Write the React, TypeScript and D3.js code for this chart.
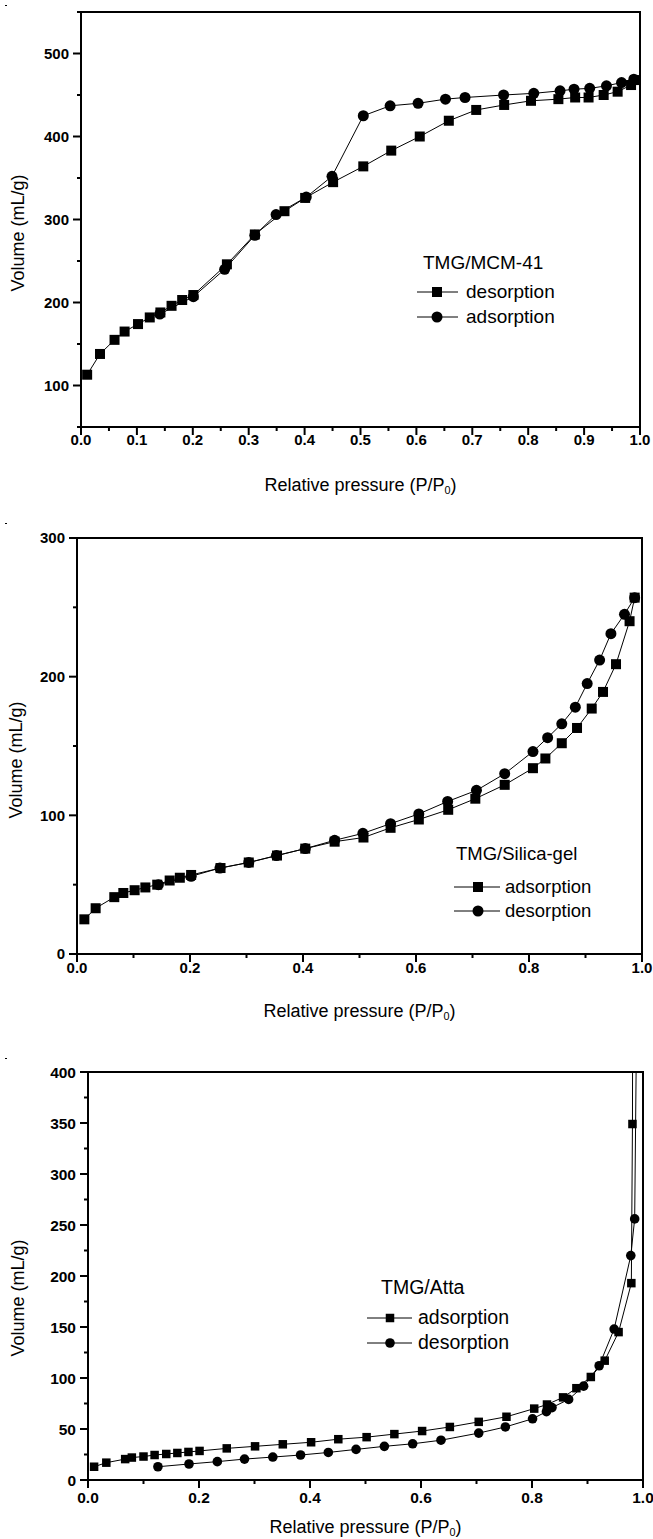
import React from "react";
import * as d3 from "d3";

// ---------- DATA ----------
// Panel 1: TMG/MCM-41
const mcmDesX = [0.011, 0.034, 0.06, 0.078, 0.102, 0.123, 0.142, 0.162, 0.181, 0.201, 0.261, 0.311, 0.364, 0.401, 0.451, 0.505, 0.555, 0.606, 0.658, 0.707, 0.757, 0.805, 0.854, 0.884, 0.908, 0.935, 0.96, 0.984, 0.991];
const mcmDesY = [113, 138, 155, 165, 174, 182, 188, 196, 203, 209, 246, 282, 310, 326, 345, 364, 383, 400, 419, 432, 438, 443, 445, 447, 447, 450, 454, 462, 468];
const mcmAdsX = [0.141, 0.201, 0.257, 0.311, 0.349, 0.403, 0.449, 0.505, 0.553, 0.603, 0.652, 0.687, 0.756, 0.81, 0.857, 0.882, 0.91, 0.94, 0.967, 0.989];
const mcmAdsY = [186, 207, 240, 281, 306, 327, 352, 425, 437, 440, 445, 447, 450, 452, 455, 457, 458, 461, 465, 469];

// Panel 2: TMG/Silica-gel
const silAdsX = [0.013, 0.033, 0.066, 0.082, 0.102, 0.121, 0.142, 0.164, 0.182, 0.202, 0.254, 0.304, 0.354, 0.404, 0.456, 0.507, 0.555, 0.605, 0.657, 0.705, 0.757, 0.807, 0.829, 0.858, 0.885, 0.911, 0.931, 0.954, 0.978, 0.987];
const silAdsY = [25, 33, 41, 44, 46, 48, 50, 53, 55, 57, 62, 66, 71, 76, 81, 84, 91, 97, 104, 112, 122, 134, 141, 152, 163, 177, 189, 209, 240, 257];
const silDesX = [0.144, 0.202, 0.253, 0.304, 0.353, 0.404, 0.456, 0.506, 0.555, 0.605, 0.656, 0.707, 0.757, 0.807, 0.833, 0.858, 0.882, 0.903, 0.925, 0.945, 0.969, 0.987];
const silDesY = [50, 56, 62, 66, 71, 76, 82, 87, 94, 101, 110, 118, 130, 146, 156, 166, 178, 195, 212, 231, 245, 257];

// Panel 3: TMG/Atta
const attaAdsX = [0.011, 0.033, 0.067, 0.079, 0.1, 0.12, 0.141, 0.161, 0.181, 0.201, 0.25, 0.301, 0.351, 0.402, 0.451, 0.502, 0.552, 0.602, 0.652, 0.704, 0.754, 0.804, 0.827, 0.856, 0.88, 0.906, 0.931, 0.956, 0.979, 0.981, 0.982];
const attaAdsY = [13, 17, 20.5, 22, 23, 24.5, 25.5, 26.5, 27.5, 28.5, 31, 33, 35, 37, 40, 42, 45, 48, 52, 57, 62, 70, 74, 81, 90, 101, 117, 145, 193, 349, 620];
const attaDesX = [0.126, 0.182, 0.233, 0.282, 0.333, 0.383, 0.433, 0.483, 0.534, 0.585, 0.636, 0.704, 0.752, 0.801, 0.826, 0.836, 0.866, 0.893, 0.921, 0.948, 0.978, 0.985, 0.989];
const attaDesY = [13, 15.7, 18, 20.5, 22.5, 24.5, 27, 30, 33, 35.5, 39, 46, 52, 60, 67, 71, 79, 92, 112, 148, 220, 256, 480];

const titles = ["TMG/MCM-41", "TMG/Silica-gel", "TMG/Atta"];
const legend1 = ["desorption", "adsorption"];
const legend23 = ["adsorption", "desorption"];
const xTitle = "Relative pressure (P/P";
const yTitle = "Volume (mL/g)";

const zip = (xs: number[], ys: number[]) => xs.map((x, i) => [x, ys[i]] as [number, number]);

const FONT = "'Liberation Sans', Arial, Helvetica, sans-serif";

type Series = { pts: [number, number][]; shape: "square" | "circle" };

type PanelCfg = {
  id: string;
  left: number; right: number; top: number; bottom: number;
  yDomain: [number, number];
  xMajor: number[]; xMinor: number[];
  yMajor: number[]; yMinor: number[];
  xFmt: (v: number) => string;
  series: Series[];
  sq: number; cr: number;
  tickFs: number; xLabBase: number;
  titleFs: number; xTitleBase: number;
  yTitleX: number; yTitleY: number;
  legTitle: string; legX: number; legY: number;
  legItems: { label: string; shape: "square" | "circle"; y: number }[];
  legLine: [number, number]; legMark: number; legText: number; legFs: number;
};

function Marker({ x, y, shape, sq, cr }: { x: number; y: number; shape: string; sq: number; cr: number }) {
  if (shape === "square") return <rect x={x - sq / 2} y={y - sq / 2} width={sq} height={sq} fill="#000" />;
  return <circle cx={x} cy={y} r={cr} fill="#000" />;
}

function Panel({ c }: { c: PanelCfg }) {
  const xs = d3.scaleLinear().domain([0, 1]).range([c.left, c.right]);
  const ys = d3.scaleLinear().domain(c.yDomain).range([c.bottom, c.top]);
  const line = d3.line<[number, number]>().x((d) => xs(d[0])).y((d) => ys(d[1]));
  const fmtY = d3.format("d");
  return (
    <g>
      <defs>
        <clipPath id={"clip" + c.id}>
          <rect x={c.left} y={c.top} width={c.right - c.left} height={c.bottom - c.top} />
        </clipPath>
      </defs>
      <g clipPath={`url(#clip${c.id})`}>
        {c.series.map((s, i) => (
          <path key={"l" + i} d={line(s.pts) || ""} fill="none" stroke="#000" strokeWidth={1} />
        ))}
        {c.series.map((s, i) =>
          s.pts.map((p, j) => (
            <Marker key={"m" + i + "-" + j} x={xs(p[0])} y={ys(p[1])} shape={s.shape} sq={c.sq} cr={c.cr} />
          ))
        )}
      </g>
      <rect x={c.left} y={c.top} width={c.right - c.left} height={c.bottom - c.top} fill="none" stroke="#000" strokeWidth={2} />
      {c.xMajor.map((v) => (
        <g key={"xM" + v}>
          <line x1={xs(v)} x2={xs(v)} y1={c.bottom} y2={c.bottom + 8} stroke="#000" strokeWidth={2} />
          <text x={xs(v)} y={c.xLabBase} textAnchor="middle" fontFamily={FONT} fontWeight="bold" fontSize={c.tickFs}>
            {c.xFmt(v)}
          </text>
        </g>
      ))}
      {c.xMinor.map((v) => (
        <line key={"xm" + v} x1={xs(v)} x2={xs(v)} y1={c.bottom} y2={c.bottom + 4} stroke="#000" strokeWidth={2} />
      ))}
      {c.yMajor.map((v) => (
        <g key={"yM" + v}>
          <line x1={c.left - 8} x2={c.left} y1={ys(v)} y2={ys(v)} stroke="#000" strokeWidth={2} />
          <text x={c.left - 12} y={ys(v) + c.tickFs * 0.36} textAnchor="end" fontFamily={FONT} fontWeight="bold" fontSize={c.tickFs}>
            {fmtY(v)}
          </text>
        </g>
      ))}
      {c.yMinor.map((v) => (
        <line key={"ym" + v} x1={c.left - 4} x2={c.left} y1={ys(v)} y2={ys(v)} stroke="#000" strokeWidth={2} />
      ))}
      <text x={(c.left + c.right) / 2} y={c.xTitleBase} textAnchor="middle" fontFamily={FONT} fontSize={c.titleFs}>
        {xTitle}
        <tspan fontSize={c.titleFs * 0.6} dy={3}>0</tspan>
        <tspan dy={-3}>)</tspan>
      </text>
      <text transform={`translate(${c.yTitleX},${c.yTitleY}) rotate(-90)`} textAnchor="middle" fontFamily={FONT} fontSize={c.titleFs}>
        {yTitle}
      </text>
      <text x={c.legX} y={c.legY} fontFamily={FONT} fontSize={c.legFs}>{c.legTitle}</text>
      {c.legItems.map((it) => (
        <g key={it.label}>
          <line x1={c.legLine[0]} x2={c.legLine[1]} y1={it.y} y2={it.y} stroke="#000" strokeWidth={1} />
          <Marker x={c.legMark} y={it.y} shape={it.shape} sq={c.sq} cr={c.cr} />
          <text x={c.legText} y={it.y + c.legFs * 0.33} fontFamily={FONT} fontSize={c.legFs}>{it.label}</text>
        </g>
      ))}
    </g>
  );
}

const range = (a: number, b: number, s: number) => d3.range(a, b + s / 2, s).map((v) => +v.toFixed(3));

const panels: PanelCfg[] = [
  {
    id: "1", left: 81, right: 640, top: 12, bottom: 427, yDomain: [50, 550],
    xMajor: range(0, 1, 0.1), xMinor: range(0.05, 0.95, 0.1),
    yMajor: range(100, 500, 100), yMinor: range(50, 550, 100),
    xFmt: d3.format(".1f"),
    series: [{ pts: zip(mcmAdsX, mcmAdsY), shape: "circle" }, { pts: zip(mcmDesX, mcmDesY), shape: "square" }],
    sq: 10, cr: 5.5, tickFs: 15, xLabBase: 444.5, titleFs: 18, xTitleBase: 490.5,
    yTitleX: 24, yTitleY: 233,
    legTitle: titles[0], legX: 423, legY: 268.5,
    legItems: [{ label: legend1[0], shape: "square", y: 292 }, { label: legend1[1], shape: "circle", y: 317 }],
    legLine: [417, 458], legMark: 437, legText: 466, legFs: 19,
  },
  {
    id: "2", left: 77, right: 642, top: 538, bottom: 954, yDomain: [0, 300],
    xMajor: range(0, 1, 0.2), xMinor: range(0.1, 0.9, 0.2),
    yMajor: range(0, 300, 100), yMinor: range(50, 250, 100),
    xFmt: d3.format(".1f"),
    series: [{ pts: zip(silDesX, silDesY), shape: "circle" }, { pts: zip(silAdsX, silAdsY), shape: "square" }],
    sq: 10, cr: 5.5, tickFs: 15, xLabBase: 973, titleFs: 18, xTitleBase: 1016.5,
    yTitleX: 22, yTitleY: 760,
    legTitle: titles[1], legX: 456, legY: 859.5,
    legItems: [{ label: legend23[0], shape: "square", y: 887 }, { label: legend23[1], shape: "circle", y: 911 }],
    legLine: [454, 500], legMark: 478, legText: 505, legFs: 18.5,
  },
  {
    id: "3", left: 88, right: 643, top: 1072, bottom: 1480, yDomain: [0, 400],
    xMajor: range(0, 1, 0.2), xMinor: range(0.1, 0.9, 0.2),
    yMajor: range(0, 400, 50), yMinor: range(25, 375, 50),
    xFmt: d3.format(".1f"),
    series: [{ pts: zip(attaDesX, attaDesY), shape: "circle" }, { pts: zip(attaAdsX, attaAdsY), shape: "square" }],
    sq: 8.5, cr: 4.8, tickFs: 15.5, xLabBase: 1503, titleFs: 18, xTitleBase: 1533,
    yTitleX: 24, yTitleY: 1298,
    legTitle: titles[2], legX: 381, legY: 1294,
    legItems: [{ label: legend23[0], shape: "square", y: 1318 }, { label: legend23[1], shape: "circle", y: 1343 }],
    legLine: [367, 412], legMark: 390, legText: 418, legFs: 19.5,
  },
];

export default function App() {
  return (
    <svg width={653} height={1539} style={{ position: "absolute", left: 0, top: 0, background: "#fff" }}>
      <rect x={0} y={0} width={653} height={1539} fill="#fff" />
      <rect x={5} y={5} width={2} height={1} fill="#000" />
      <rect x={5} y={523} width={2} height={1} fill="#000" />
      <rect x={5} y={1058} width={2} height={1} fill="#000" />
      {panels.map((p) => (
        <Panel key={p.id} c={p} />
      ))}
    </svg>
  );
}
